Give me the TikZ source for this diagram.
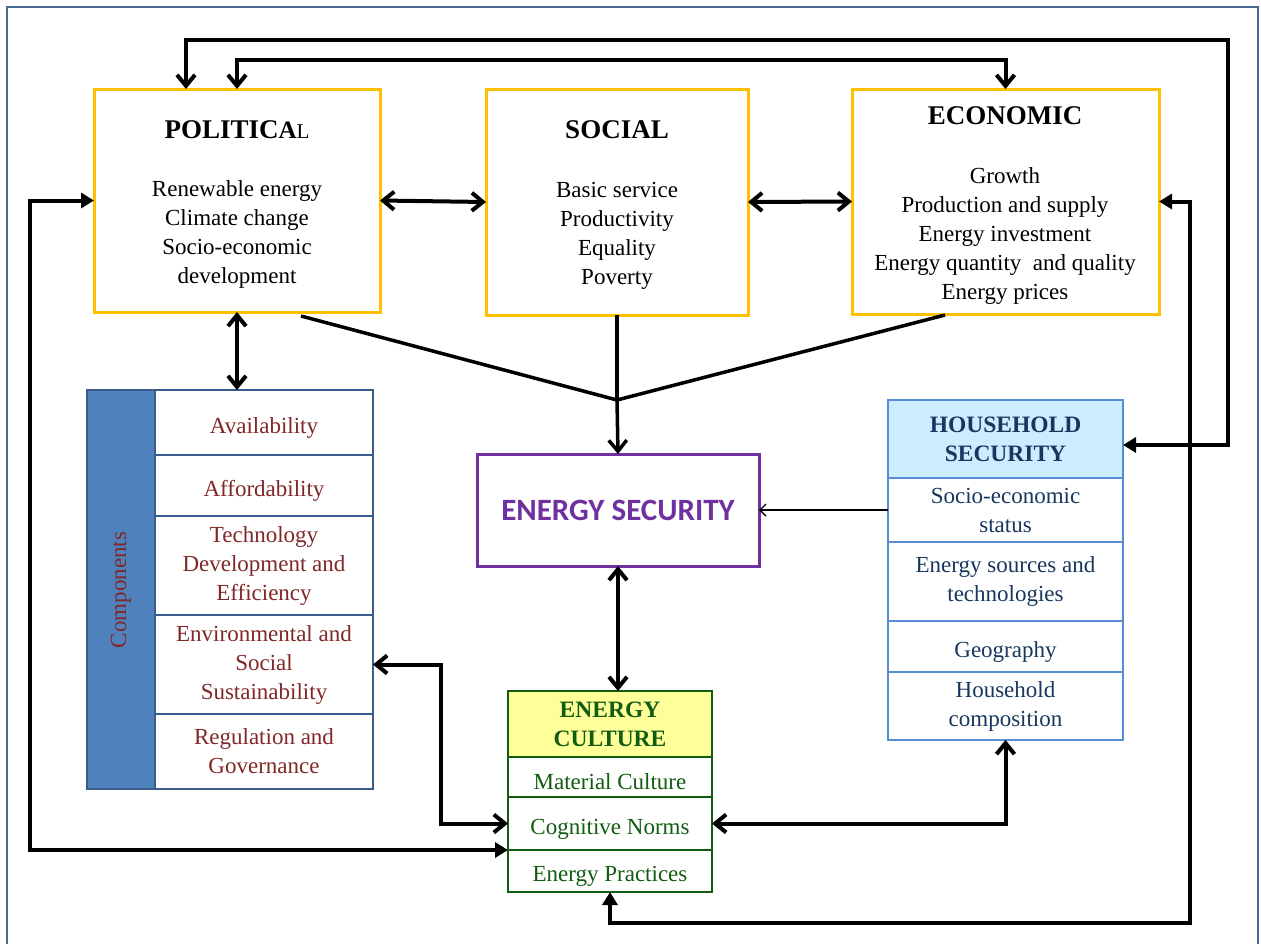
\documentclass[tikz,border=0pt]{standalone}
\usepackage{fontspec}
\setmainfont{Liberation Serif}
\newfontfamily\calfont{Carlito}
\usetikzlibrary{arrows.meta,calc}

\definecolor{frameblue}{RGB}{74,106,150}
\definecolor{gold}{RGB}{255,192,0}
\definecolor{esviolet}{RGB}{112,48,160}
\definecolor{ecgreen}{RGB}{18,92,18}
\definecolor{ecyellow}{RGB}{255,255,153}
\definecolor{hhblue}{RGB}{85,142,213}
\definecolor{hhfill}{RGB}{204,236,255}
\definecolor{hhtext}{RGB}{23,55,94}
\definecolor{cpfill}{RGB}{79,129,189}
\definecolor{cpline}{RGB}{56,93,138}
\definecolor{cptext}{RGB}{128,40,40}

\newcommand\txtbody{\fontsize{23}{29}\selectfont}
\newcommand\txttitle{\fontsize{27}{30}\selectfont\bfseries}
\newcommand\txthead{\fontsize{23.5}{29}\selectfont\bfseries}

\tikzset{
  cell/.style={draw, inner sep=0pt, outer sep=0pt, anchor=north west,
               align=center, font=\txtbody},
  % pushes the text of a table row slightly below the row centre
  lowered/.style={execute at begin node={\rule{0pt}{26pt}}},
  pestbox/.style={cell, draw=gold, line width=3pt},
  plain/.style={inner sep=0pt, align=center},
  esbox/.style={cell, draw=esviolet, line width=3pt, text=esviolet,
                font=\calfont\bfseries\fontsize{31}{34}\selectfont},
  cpcell/.style={cell, lowered, draw=cpline, line width=2.5pt, text=cptext, fill=white},
  hhcell/.style={cell, lowered, draw=hhblue, line width=2.5pt, text=hhtext, fill=white},
  eccell/.style={cell, lowered, draw=ecgreen, line width=2.5pt, text=ecgreen, fill=white},
  link/.style={line width=4pt, line join=miter},
  fan/.style={line width=3.5pt},
  >={Straight Barb[length=11pt,width=18pt]},
  fill tips/.style={arrows={Triangle[length=13pt,width=15pt]-Triangle[length=13pt,width=15pt]}},
}

\begin{document}
\begin{tikzpicture}[x=1pt,y=-1pt]
\useasboundingbox (0,0) rectangle (1261,943);
\fill[white] (0,0) rectangle (1261,943);
% outer frame
\draw[frameblue, line width=1.3pt] (7,7) rectangle (1258,970);

% ---- three dimension boxes ----
\node[pestbox, minimum width=286, minimum height=223] (pol) at (94,89) {};
\node[pestbox, minimum width=262, minimum height=226] (soc) at (486,89) {};
\node[pestbox, minimum width=307, minimum height=225] (eco) at (852,89) {};

\node[plain] (polT) at (237,130) {\txttitle POLITIC{\fontsize{25}{30}\selectfont A}{\mdseries\fontsize{21}{30}\selectfont L}};
\node[plain, font=\txtbody] (polB) at (237,234) {Renewable energy\\Climate change\\Socio-economic\\development};
\node[plain] (socT) at (617,130) {\txttitle SOCIAL};
\node[plain, font=\txtbody] (socB) at (617,235.5) {Basic service\\Productivity\\Equality\\Poverty};
\node[plain] (ecoT) at (1005,116) {\txttitle ECONOMIC};
\node[plain, font=\txtbody] (ecoB) at (1005,235.5) {Growth\\Production and supply\\Energy investment\\Energy quantity \ and quality\\Energy prices};

% ---- energy security ----
\node[esbox, minimum width=282, minimum height=112] (es) at (477,454) {ENERGY SECURITY};

% ---- components ----
\node[cell, draw=cpline, line width=2.5pt, fill=cpfill, minimum width=68, minimum height=399] (cpstrip) at (87,390) {};
\node[plain, rotate=90, text=cptext, font=\txtbody] (cplabel) at (121,590) {Components};
\node[cpcell, minimum width=218, minimum height=65] (cpa) at (155,390) {Availability};
\node[cpcell, minimum width=218, minimum height=61] (cpb) at (155,455) {Affordability};
\node[cpcell, minimum width=218, minimum height=99] (cpc) at (155,516) {Technology\\Development and\\Efficiency};
\node[cpcell, minimum width=218, minimum height=99] (cpd) at (155,615) {Environmental and\\Social\\Sustainability};
\node[cpcell, minimum width=218, minimum height=75] (cpe) at (155,714) {Regulation and\\Governance};

% ---- household security ----
\node[hhcell, fill=hhfill, font=\txthead, execute at begin node={\rule{0pt}{25pt}},
      minimum width=235, minimum height=78] (hhh) at (888,400) {HOUSEHOLD\\SECURITY};
\node[hhcell, minimum width=235, minimum height=64] (hha) at (888,478) {Socio-economic\\status};
\node[hhcell, minimum width=235, minimum height=79] (hhb) at (888,542) {Energy sources and\\technologies};
\node[hhcell, minimum width=235, minimum height=51] (hhc) at (888,621) {Geography};
\node[hhcell, minimum width=235, minimum height=68] (hhd) at (888,672) {Household\\composition};

% ---- energy culture ----
\node[eccell, fill=ecyellow, font=\txthead, execute at begin node={},
      minimum width=204, minimum height=66] (ech) at (508,691) {ENERGY\\CULTURE};
\node[eccell, minimum width=204, minimum height=40] (mat) at (508,757) {Material Culture};
\node[eccell, minimum width=204, minimum height=53] (cog) at (508,797) {Cognitive Norms};
\node[eccell, minimum width=204, minimum height=42] (prac) at (508,850) {Energy Practices};

% ---- routing points ----
\coordinate (loopR) at (1228,40);
\coordinate (loopT) at (600,60);
\coordinate (loopL) at (30,850);
\coordinate (loopE) at (1190,923);
\coordinate (loopC) at (441,740);
\coordinate (fanL) at (301,316);
\coordinate (fanR) at (945,315);
\coordinate (merge) at (617,400);

% ---- connectors ----
\draw[link, arrows={Straight Barb[length=11pt,width=18pt]-Triangle[length=13pt,width=15pt]}]
  ([xshift=-51pt]pol.north) |- (loopR) |- ([yshift=-6pt]hhh.east);
\draw[link, <->] (pol.north) |- (loopT) -| (eco.north);
\draw[link, <->] (pol.east) -- (soc.west);
\draw[link, <->] (soc.east) -- (eco.west);
\draw[link, fill tips] (pol.west) -| (loopL) -- (cog.south west);
\draw[link, fill tips] (eco.east) -| (loopE) -| (prac.south);
\draw[link, <->] (pol.south) -- (pol.south |- cpa.north);
\draw[fan] (fanL) -- (merge) -- (fanR);
\draw[fan] (soc.south) -- (merge);
\draw[fan, ->] (merge) -- (es.north);
\draw[link, <->] (es.south) -- (es.south |- ech.north);
\draw[link, <->] (cpd.east) -| (loopC) |- (cog.west);
\draw[link, <->] (hhd.south) |- (cog.east);
\draw[line width=1.4pt, -{Straight Barb[length=6pt,width=12pt]}] (hha.west) -- (es.east);
\end{tikzpicture}
\end{document}
